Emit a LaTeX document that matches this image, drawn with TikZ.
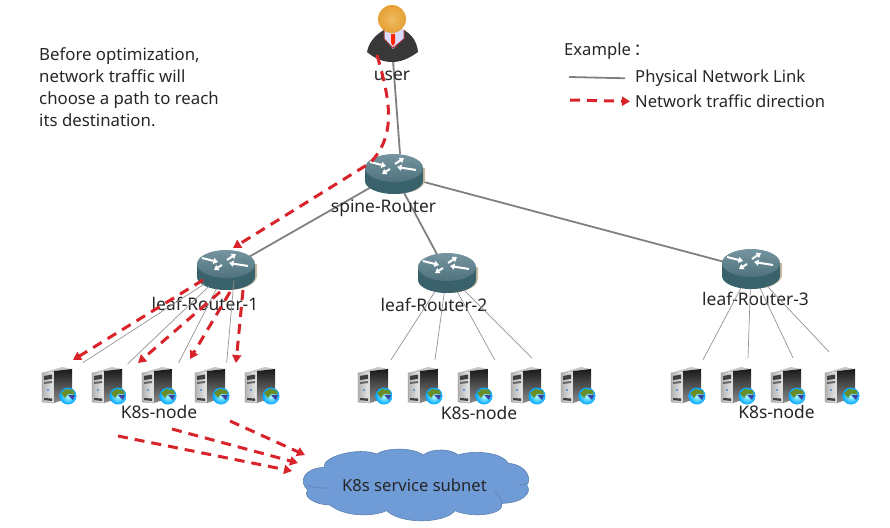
\documentclass[tikz,border=0pt]{standalone}
\usepackage{fontspec}
\setmainfont{Noto Sans}
\newfontfamily\cjkfont{Noto Sans CJK SC}
\usetikzlibrary{arrows.meta,shapes.geometric}

\definecolor{linkgray}{HTML}{808080}
\definecolor{trafficred}{HTML}{D9232A}
\definecolor{cloudblue}{HTML}{6F9BD6}
\definecolor{cloudedge}{HTML}{5B80AE}
\definecolor{routertop}{HTML}{7595A0}
\definecolor{routerlow}{HTML}{4F727C}
\definecolor{routerdark}{HTML}{3A626C}
\definecolor{routerlight}{HTML}{B5CFD3}
\definecolor{routershadow}{HTML}{C9BFA5}
\definecolor{headorange}{HTML}{E5A035}
\definecolor{headlight}{HTML}{F0BB60}

\tikzset{
    x=1pt, y=-1pt,
    label text/.style={font=\fontsize{16.6}{22}\selectfont, text=black!85, inner sep=0pt},
    device text/.style={label text, font=\fontsize{17.4}{22}\selectfont},
    routerbox/.style={ellipse, minimum width=58pt, minimum height=40pt, inner sep=0pt},
    serverbox/.style={minimum width=35pt, minimum height=36pt, inner sep=0pt},
    uplink/.style={draw=linkgray, line width=1.8pt},
    downlink/.style={draw=linkgray!85, line width=0.7pt},
    traffic/.style={draw=trafficred, line width=3pt, dash pattern=on 10pt off 7pt,
        -{Triangle[length=8pt,width=9pt]}},
    routerarrow/.style={white, line width=2pt, -{Triangle[length=4.5pt,width=6pt]}},
    routericon/.pic={
        \fill[routershadow] (-25,-6) -- (31,-6) -- (31,6) arc (0:180:29 and 14) -- cycle;
        \shade[left color=routerdark, middle color=routerlight, right color=routerdark]
            (-29,-6) -- (29,-6) -- (29,7) arc (0:180:29 and 13) -- cycle;
        \shade[top color=routertop, bottom color=routerlow] (0,-6) ellipse (29 and 14);
        \draw[routerarrow] (-24,-12) -- (-8,-8);
        \draw[routerarrow] (1,-10) -- (10,-16);
        \draw[routerarrow] (-4,-5) -- (-12,0);
        \draw[routerarrow] (22,-4) -- (3,-7);
    },
    servericon/.pic={
        \shade[left color=black!30, right color=black!8, draw=black!50, line width=0.3pt]
            (-17,-12) -- (-5,-14) -- (-5,18) -- (-17,17) -- cycle;
        \fill[black!22] (-17,-12) -- (3,-18) -- (13,-16) -- (-5,-14) -- cycle;
        \shade[top color=black!90, bottom color=black!45]
            (-5,-14) -- (13,-16) -- (13,12) -- (-5,18) -- cycle;
        \fill[black!75] (-15,-9) -- (-7,-10.5) -- (-7,-6) -- (-15,-5) -- cycle;
        \fill[black!60] (-15,-3) -- (-7,-4) -- (-7,-2) -- (-15,-1) -- cycle;
        \fill[black!75] (-15,13) -- (-7,13.5) -- (-7,16) -- (-15,15) -- cycle;
        \fill[blue!60!cyan] (-11,5) circle (0.8);
        \shade[inner color=cyan!30, outer color=blue!35!cyan] (9,11) circle (8.5);
        \fill[olive!55!green!85!black] (2,8) -- (7,4) -- (14,5) -- (16,9) -- (9,9) -- (6,13) -- cycle;
        \fill[blue!50!black!75] (9,10) -- (16,10) -- (14,15) -- cycle;
    },
    usericon/.pic={
        \fill[black!78] (-26,14) .. controls (-24,3) and (-16,-4) .. (-9,-8)
            -- (11,-8) .. controls (18,-4) and (24,3) .. (25,14)
            .. controls (14,22) and (6,24) .. (-1,24) .. controls (-9,24) and (-18,21) .. (-26,14) -- cycle;
        \fill[blue!14] (-9,-8) -- (11,-8) -- (11,0) -- (0,11) -- (-9,0) -- cycle;
        \draw[red!55!black!80, line width=1pt] (-9,-8) -- (-9,1) -- (0,10) -- (11,1) -- (11,-8);
        \fill[red!70!orange] (-2,-4) -- (2,-4) -- (2,5) -- (0,8) -- (-2,5) -- cycle;
        \shade[inner color=headlight, outer color=headorange] (-1,-19) circle (14);
    },
}

\begin{document}
\begin{tikzpicture}
    \useasboundingbox (0,0) rectangle (890,527);

    % text and legend
    \node[label text, align=left, anchor=north west, font=\fontsize{16.8}{22}\selectfont] (note) at (39,47)
        {Before optimization,\\network traffic will\\choose a path to reach\\its destination.};
    \node[label text, anchor=west] (example) at (564,51.5) {Example\,{\cjkfont ：}};
    \node[label text, anchor=west] (physical) at (635,78.5) {Physical Network Link};
    \node[label text, anchor=west] (direction) at (635,101.5) {Network traffic direction};
    \coordinate (physicalend) at (569,77);
    \coordinate (directionend) at (570,100);
    \draw[uplink, shorten >=10pt] (physicalend) -- (physical.west);
    \draw[traffic, shorten >=5pt] (directionend) -- (direction.west);

    % user and routers
    \node[minimum width=48pt, minimum height=45pt] (user) at (393,38) {};
    \node[routerbox] (spine) at (394,174) {};
    \node[routerbox] (leaf1) at (226,270) {};
    \node[routerbox] (leaf2) at (447,273) {};
    \node[routerbox] (leaf3) at (751,269) {};

    \draw[uplink] (user.south) -- ([xshift=6pt]spine.north);
    \draw[uplink] (spine) -- (leaf1);
    \draw[uplink] (spine) -- (leaf2);
    \draw[uplink] (spine) -- (leaf3);

    \pic at (user) {usericon};
    \pic at (spine) {routericon};
    \pic at (leaf1) {routericon};
    \pic at (leaf2) {routericon};
    \pic at (leaf3) {routericon};

    \node[device text] (userlabel) at (392,75.5) {user};
    \node[device text] (spinelabel) at (383.5,208) {spine-Router};
    \node[device text] (leaflabel1) at (205,304) {leaf-Router-1};
    \node[device text] (leaflabel2) at (434,305) {leaf-Router-2};
    \node[device text] (leaflabel3) at (755.5,299) {leaf-Router-3};

    % servers
    \node[serverbox] (s11) at (59,385) {};
    \node[serverbox] (s12) at (109,385) {};
    \node[serverbox] (s13) at (159,385) {};
    \node[serverbox] (s14) at (212,385) {};
    \node[serverbox] (s15) at (262,385) {};
    \node[serverbox] (s21) at (375,385) {};
    \node[serverbox] (s22) at (425,385) {};
    \node[serverbox] (s23) at (475,385) {};
    \node[serverbox] (s24) at (528,385) {};
    \node[serverbox] (s25) at (578,385) {};
    \node[serverbox] (s31) at (688,385) {};
    \node[serverbox] (s32) at (738,385) {};
    \node[serverbox] (s33) at (788,385) {};
    \node[serverbox] (s34) at (842,385) {};
    \pic at (s11) {servericon};
    \pic at (s12) {servericon};
    \pic at (s13) {servericon};
    \pic at (s14) {servericon};
    \pic at (s15) {servericon};
    \pic at (s21) {servericon};
    \pic at (s22) {servericon};
    \pic at (s23) {servericon};
    \pic at (s24) {servericon};
    \pic at (s25) {servericon};
    \pic at (s31) {servericon};
    \pic at (s32) {servericon};
    \pic at (s33) {servericon};
    \pic at (s34) {servericon};

    \node[device text] (nodelabel1) at (159,412) {K8s-node};
    \node[device text] (nodelabel2) at (479,413) {K8s-node};
    \node[device text] (nodelabel3) at (776.5,412) {K8s-node};

    % thin links, leaf to server
    \draw[downlink] (leaf1) -- ([shift={(6pt,4pt)}]s11.north east);
    \draw[downlink] (leaf1) -- ([shift={(1pt,3pt)}]s12.north east);
    \draw[downlink] (leaf1) -- ([shift={(2pt,4pt)}]s13.north east);
    \draw[downlink] ([shift={(8pt,-10pt)}]leaf1.center) -- ([shift={(-3pt,4pt)}]s14.north east);
    \draw[downlink] (leaf2) -- ([shift={(16pt,7pt)}]s21.north);
    \draw[downlink] (leaf2) -- ([shift={(10pt,7pt)}]s22.north);
    \draw[downlink] (leaf2) -- ([shift={(2pt,7pt)}]s23.north east);
    \draw[downlink] (leaf2) -- ([shift={(-14pt,9pt)}]s24.north east);
    \draw[downlink] (leaf3) -- ([shift={(15pt,7pt)}]s31.north);
    \draw[downlink] (leaf3) -- ([shift={(10pt,9pt)}]s32.north);
    \draw[downlink] (leaf3) -- ([shift={(5pt,9pt)}]s33.north);
    \draw[downlink] (leaf3) -- ([shift={(-13pt,15pt)}]s34.north);

    % subnet
    \draw[fill=cloudblue, draw=cloudedge, line width=0.6pt]
        (324.3,467.3) .. controls (321.7,456.7) and (358,446.7) .. (376.7,454)
        .. controls (385,448) and (411.7,446.7) .. (423.3,455)
        .. controls (431.7,448.3) and (450,448.3) .. (458.3,455)
        .. controls (471.7,450) and (501.7,451.7) .. (508.3,463.3)
        .. controls (528,465) and (531.7,480) .. (526.7,485)
        .. controls (533,493) and (521.7,503.3) .. (501.7,503.3)
        .. controls (505,515) and (471.7,518.3) .. (455,510.7)
        .. controls (445,523.3) and (401.7,525) .. (386.7,510.7)
        .. controls (368.3,518.3) and (341.7,515) .. (330,505)
        .. controls (318.3,505) and (301.7,498.3) .. (307.7,490)
        .. controls (298.3,481.7) and (303.3,468.3) .. (324.3,467.3) -- cycle;
    \draw[draw=cloudedge, line width=0.6pt] (307.7,485) .. controls (315,488) .. (328,488);
    \draw[draw=cloudedge, line width=0.6pt] (526.7,485) .. controls (524,484) .. (519,486);
    \draw[draw=cloudedge, line width=0.6pt] (501.7,503.3) .. controls (501,498) .. (495,492);
    \node[label text] (subnet) at (414.5,485) {K8s service subnet};

    % traffic
    \coordinate (userstart) at (377,55);
    \coordinate (spinebend) at (370,163);
    \coordinate (leaftip) at (233,248);
    \coordinate (t11) at (203,280);
    \coordinate (t12) at (220,292);
    \coordinate (t13) at (230,292);
    \coordinate (t14) at (243,290);
    \coordinate (tip11) at (73,360);
    \coordinate (tip12) at (138,363);
    \coordinate (tip13) at (190,359);
    \coordinate (tip14) at (236,363);
    \coordinate (c1) at (118,436);
    \coordinate (c2) at (172,429);
    \coordinate (c3) at (230,421);
    \coordinate (ctip1) at (292,471);
    \coordinate (ctip2) at (298,463);
    \coordinate (ctip3) at (305,455);
    \draw[traffic] (userstart) .. controls (390,100) and (397,135) .. (spinebend) -- (leaftip);
    \draw[traffic] (t11) -- (tip11);
    \draw[traffic] (t12) -- (tip12);
    \draw[traffic] (t13) -- (tip13);
    \draw[traffic] (t14) -- (tip14);
    \draw[traffic] (c1) -- (ctip1);
    \draw[traffic] (c2) -- (ctip2);
    \draw[traffic] (c3) -- (ctip3);
\end{tikzpicture}
\end{document}
